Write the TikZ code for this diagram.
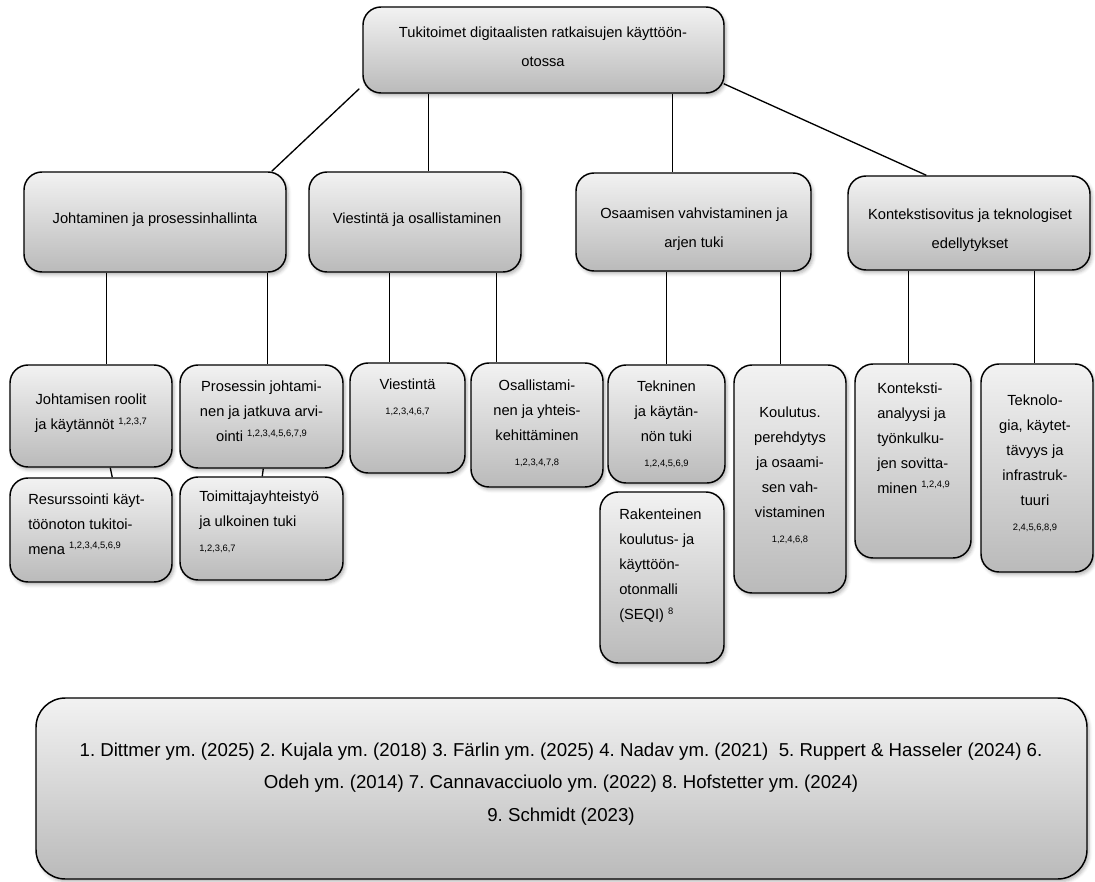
\documentclass[tikz,border=0pt]{standalone}
\usepackage{fontspec}
\setmainfont{Liberation Sans}
\frenchspacing
\usetikzlibrary{calc,shadows.blur,backgrounds}

\definecolor{boxtop}{RGB}{242,242,242}
\definecolor{boxbot}{RGB}{186,186,186}

% small raised reference numbers after a word
\newcommand\citeno[1]{\raisebox{0.38em}{\fontsize{7}{7}\selectfont #1}}
% small reference line of its own
\newcommand\refline[1]{{\fontsize{7}{7}\selectfont #1}}

% rounded box given by its corners (x1,y1) and (x2,y2)
\newcommand\mkbox[6][]{%
  \node[box,#1,minimum width={(#5-#3)*0.75pt},minimum height={(#6-#4)*0.75pt}]
    (#2) at ({(#3+#5)/2},{(#4+#6)/2}) {};}

\tikzset{
  box/.style={draw=black, line width=1.1pt, rounded corners=13.5pt,
    top color=boxtop, bottom color=boxbot, inner sep=0pt,
    blur shadow={shadow xshift=1.5pt, shadow yshift=-2pt,
      shadow blur radius=2.5pt, shadow opacity=30}},
  link/.style={draw=black, line width=1pt},
  txt/.style={inner sep=0pt, align=center, font=\fontsize{11}{18.75}\selectfont},
  head/.style={txt, font=\fontsize{11}{21.75}\selectfont},
  txtl/.style={txt, align=left, anchor=west},
  refs/.style={inner sep=0pt, align=center, font=\fontsize{14}{24.4}\selectfont}
}

\begin{document}
\begin{tikzpicture}[x=0.75pt,y=-0.75pt]
\useasboundingbox (0,0) rectangle (1095,881);

% top level
\mkbox{top}{363}{7}{724}{93}
\node[head] (ttop) at (543,46.5) {Tukitoimet digitaalisten ratkaisujen käyttöön-\\otossa};

% main themes
\mkbox{J}{24}{172}{286}{272}
\mkbox{V}{309}{172}{521}{272}
\mkbox{O}{576}{173}{811}{271}
\mkbox{K}{848}{176}{1090}{270}
\node[head] (tJ) at (155,220) {Johtaminen ja prosessinhallinta};
\node[head] (tV) at (417,220) {Viestintä ja osallistaminen};
\node[head] (tO) at (694,229.5) {Osaamisen vahvistaminen ja\\arjen tuki};
\node[head] (tK) at (970,230.5) {Kontekstisovitus ja teknologiset\\edellytykset};

% sub-themes
\mkbox{jr}{10}{365}{172}{467}
\mkbox{res}{10}{478}{172}{582}
\mkbox{pj}{180}{365}{343}{468}
\mkbox{tu}{180}{477}{343}{580}
\mkbox{vi}{350}{363}{465}{473}
\mkbox{os}{471}{363}{603}{487}
\mkbox{te}{608}{365}{725}{483}
\mkbox{ra}{600}{492}{724}{663}
\mkbox{ko}{734}{365}{846}{593}
\mkbox{ka}{855}{364}{971}{558}
\mkbox{tk}{981}{364}{1093}{572}

\node[txt] (tjr) at (91,413.5) {Johtamisen roolit\\ja käytännöt \citeno{1,2,3,7}};
\node[txtl] (tres) at (28,524) {Resurssointi käyt-\\töönoton tukitoi-\\mena \citeno{1,2,3,4,5,6,9}};
\node[txt] (tpj) at (261.5,411.5) {Prosessin johtami-\\nen ja jatkuva arvi-\\ointi \citeno{1,2,3,4,5,6,7,9}};
\node[txtl] (ttu) at (199,522) {Toimittajayhteistyö\\ja ulkoinen tuki\\\refline{1,2,3,6,7}};
\node[txt] (tvi) at (407.5,397) {Viestintä\\\refline{1,2,3,4,6,7}};
\node[txt] (tos) at (537,423) {Osallistami-\\nen ja yhteis-\\kehittäminen\\\refline{1,2,3,4,7,8}};
\node[txt] (tte) at (666.5,424) {Tekninen\\ja käytän-\\nön tuki\\\refline{1,2,4,5,6,9}};
\node[txtl] (tra) at (619,566) {Rakenteinen\\koulutus- ja\\käyttöön-\\otonmalli\\(SEQI) \citeno{8}};
\node[txt] (tko) at (790,475.5) {Koulutus.\\perehdytys\\ja osaami-\\sen vah-\\vistaminen\\\refline{1,2,4,6,8}};
\node[txtl] (tka) at (877,438) {Konteksti-\\analyysi ja\\työnkulku-\\jen sovitta-\\minen \citeno{1,2,4,9}};
\node[txt] (ttk) at (1035,463.5) {Teknolo-\\gia, käytet-\\tävyys ja\\infrastruk-\\tuuri\\\refline{2,4,5,6,8,9}};

% reference list
\mkbox[rounded corners=22pt]{refbox}{36}{698}{1087}{879}
\node[refs] (trefs) at (561,784) {1. Dittmer ym. (2025) 2. Kujala ym. (2018) 3. Färlin ym. (2025) 4. Nadav ym. (2021)\ \ 5. Ruppert \& Hasseler (2024) 6.\\Odeh ym. (2014) 7. Cannavacciuolo ym. (2022) 8. Hofstetter ym. (2024)\\9. Schmidt (2023)};

% connectors, behind the boxes
\begin{scope}[on background layer]
  \draw[link] ($(top.south west)+(-3,-5)$) -- ($(J.north east)+(-15,0)$);
  \draw[link] ($(top.south west)+(66,0)$) -- ($(V.north west)+(120,0)$);
  \draw[link] ($(top.south west)+(310,0)$) -- ($(O.north west)+(97,0)$);
  \draw[link] ($(top.south east)+(-1,-10)$) -- ($(K.north west)+(79,0)$);

  \draw[link] ($(J.south west)+(83,0)$) -- ($(jr.north west)+(97,0)$);
  \draw[link] ($(J.south west)+(244,0)$) -- ($(pj.north west)+(88,0)$);
  \draw[link] ($(V.south west)+(81,0)$) -- ($(vi.north west)+(40,0)$);
  \draw[link] ($(V.south west)+(188,0)$) -- ($(os.north west)+(26,0)$);
  \draw[link] ($(O.south west)+(91,0)$) -- ($(te.north west)+(59,0)$);
  \draw[link] ($(O.south west)+(205,0)$) -- ($(ko.north west)+(47,0)$);
  \draw[link] ($(K.south west)+(61,0)$) -- ($(ka.north west)+(54,0)$);
  \draw[link] ($(K.south west)+(187,0)$) -- ($(tk.north west)+(54,0)$);

  \draw[link] ($(jr.south west)+(101,0)$) -- ($(res.north west)+(103,0)$);
  \draw[link] ($(pj.south west)+(84,0)$) -- ($(tu.north west)+(83,0)$);
\end{scope}
\end{tikzpicture}
\end{document}
